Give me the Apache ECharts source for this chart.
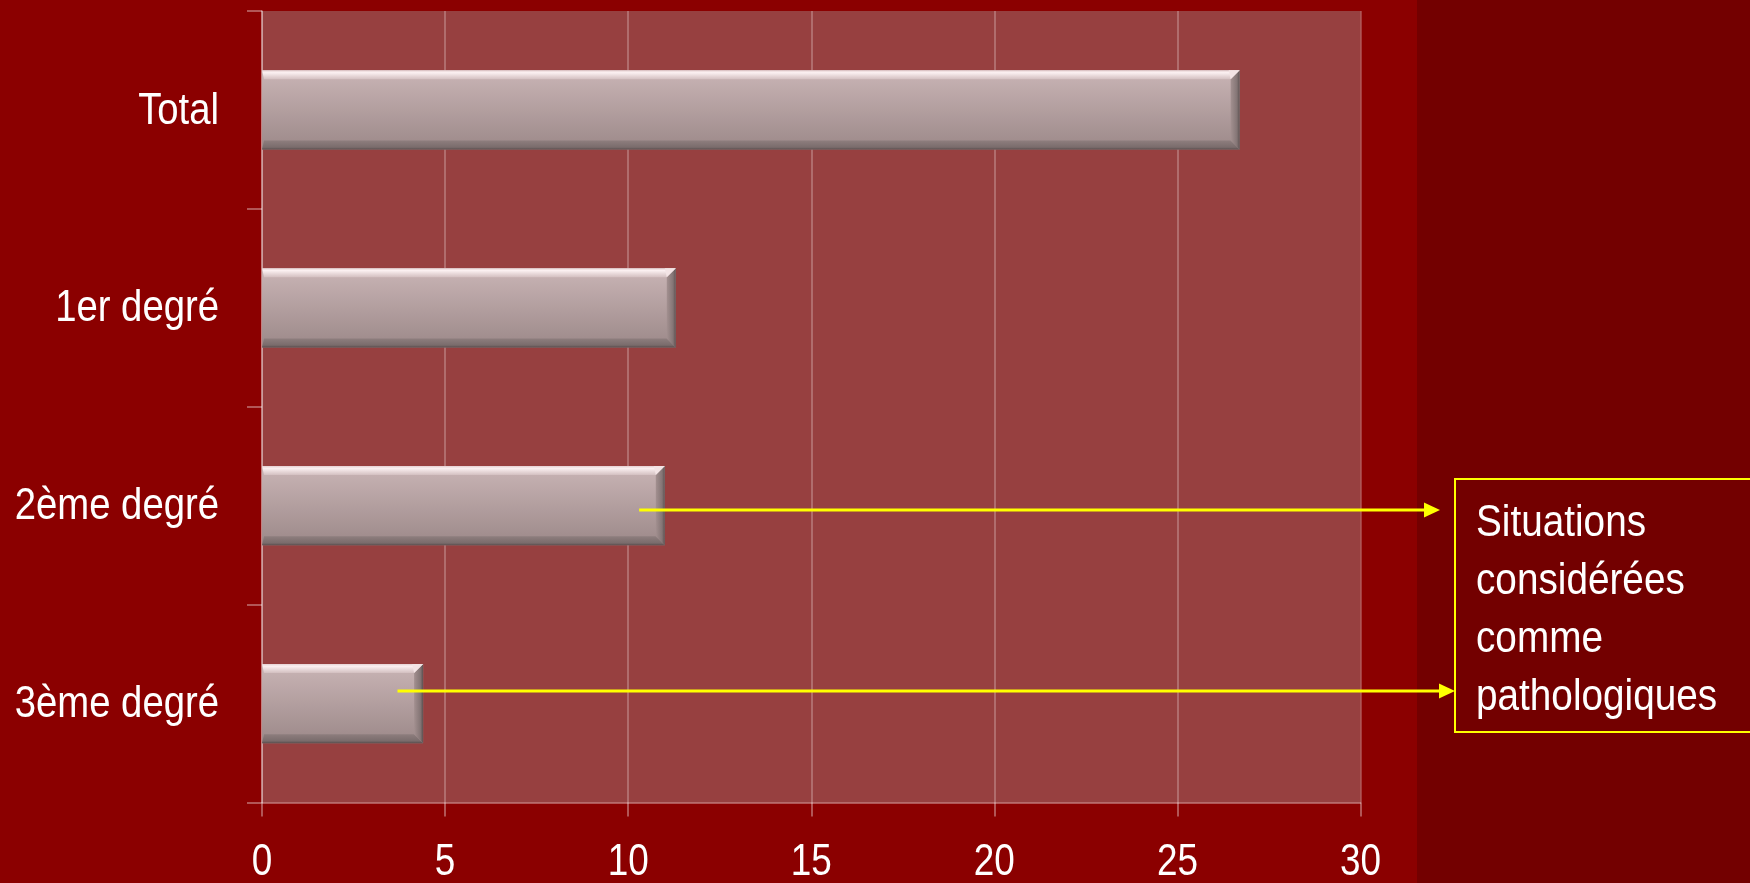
<!DOCTYPE html>
<html>
<head>
<meta charset="utf-8">
<script src="https://cdn.jsdelivr.net/npm/echarts@6/dist/echarts.min.js"></script>
<style>
html,body{margin:0;padding:0;background:#8B0000;}
#c{width:1750px;height:883px;}
</style>
</head>
<body>
<div id="c"></div>
<script>
// Data
var categories = ['Total', '1er degré', '2ème degré', '3ème degré'];
var values = [26.7, 11.3, 11.0, 4.4];
var xTicks = [0, 5, 10, 15, 20, 25, 30];
var noteLines = ['Situations', 'considérées', 'comme', 'pathologiques'];
// arrows: [category, value where the arrow starts]
var arrowFrom = [['2ème degré', 10.3], ['3ème degré', 3.7]];

var FONT = "'Liberation Sans', Arial, sans-serif";
var chart = echarts.init(document.getElementById('c'), null, {renderer: 'canvas'});

function vgrad(stops) {
  return new echarts.graphic.LinearGradient(0, 0, 0, 1, stops.map(function (s) { return {offset: s[0], color: s[1]}; }));
}
function hgrad(stops) {
  return new echarts.graphic.LinearGradient(0, 0, 1, 0, stops.map(function (s) { return {offset: s[0], color: s[1]}; }));
}

var barData = values.map(function (v, i) { return [v, i]; });

function renderBevelBar(params, api) {
  var cat = api.value(1);
  var start = api.coord([0, cat]);
  var end = api.coord([api.value(0), cat]);
  var h = api.size([0, 1])[1] * 0.4;
  var x0 = start[0], x1 = end[0], y0 = start[1] - h / 2, y1 = y0 + h;
  var b = 9;
  return {
    type: 'group',
    children: [
      {type: 'rect', shape: {x: x0, y: y0, width: x1 - x0, height: h},
        style: {fill: vgrad([[0, '#c9b4b5'], [1, '#9c8989']]),
          shadowColor: 'rgba(40,0,0,0.6)', shadowBlur: 9, shadowOffsetX: 3, shadowOffsetY: 4}},
      // top bevel
      {type: 'polygon', shape: {points: [[x0, y0], [x1, y0], [x1 - b, y0 + b], [x0 + 2, y0 + b]]},
        style: {fill: vgrad([[0, '#e6d1d3'], [0.25, '#fbf0f1'], [1, '#d3bfc0']])}},
      // bottom bevel
      {type: 'polygon', shape: {points: [[x0, y1], [x1, y1], [x1 - b, y1 - b], [x0 + 2, y1 - b]]},
        style: {fill: vgrad([[0, '#8e7e7e'], [0.75, '#7a6c6c'], [1, '#5a4e4e']])}},
      // right bevel
      {type: 'polygon', shape: {points: [[x1 - b, y0 + b], [x1, y0], [x1, y1], [x1 - b, y1 - b]]},
        style: {fill: hgrad([[0, '#a39090'], [0.7, '#847575'], [1, '#5c5050']])}},
      // top-right corner highlight
      {type: 'polygon', shape: {points: [[x1 - b, y0 + b], [x1, y0], [x1 - b - 2, y0]]},
        style: {fill: '#f3e4e5'}}
    ]
  };
}

var option = {
  backgroundColor: '#8B0000',
  animation: false,
  grid: {
    left: 262, right: 389.5, top: 11, bottom: 80.5,
    show: true, backgroundColor: '#974040', borderWidth: 0,
    containLabel: false, outerBoundsMode: 'none'
  },
  xAxis: {
    type: 'value', min: 0, max: 30, interval: 5,
    axisLine: {show: true, lineStyle: {color: 'rgba(255,255,255,0.45)', width: 1.5}},
    axisTick: {show: true, length: 14, lineStyle: {color: 'rgba(255,255,255,0.45)', width: 1.5}},
    splitLine: {show: true, lineStyle: {color: 'rgba(255,255,255,0.32)', width: 1.5}},
    axisLabel: {show: false}
  },
  yAxis: {
    type: 'category', data: categories, inverse: true,
    axisLine: {show: true, lineStyle: {color: 'rgba(255,255,255,0.45)', width: 1.5}},
    axisTick: {show: true, length: 15, lineStyle: {color: 'rgba(255,255,255,0.45)', width: 1.5}},
    splitLine: {show: false},
    axisLabel: {show: false}
  },
  series: [{
    type: 'custom',
    renderItem: renderBevelBar,
    encode: {x: 0, y: 1},
    data: barData
  }]
};
chart.setOption(option);

var graphics = [
  {type: 'rect', z: -10, silent: true, shape: {x: 1417, y: 0, width: 333, height: 883}, style: {fill: '#730000'}}
];

// Condensed axis labels (the source typeface is narrow)
categories.forEach(function (c) {
  var y = chart.convertToPixel({yAxisIndex: 0}, c);
  graphics.push({
    type: 'text', z: 20, x: 219, y: y + 1.5, scaleX: 0.87,
    style: {text: c, fill: '#ffffff', font: '44px ' + FONT, align: 'right', verticalAlign: 'middle'}
  });
});
xTicks.forEach(function (t) {
  var x = chart.convertToPixel({xAxisIndex: 0}, t);
  graphics.push({
    type: 'text', z: 20, x: x, y: 863, scaleX: 0.82,
    style: {text: String(t), fill: '#ffffff', font: '45px ' + FONT, align: 'center', verticalAlign: 'middle'}
  });
});

// Note box
var boxX = 1455, boxY = 479, boxH = 253;
graphics.push({type: 'rect', z: 10, shape: {x: boxX, y: boxY, width: 320, height: boxH}, style: {fill: 'none', stroke: '#ffff00', lineWidth: 2}});
noteLines.forEach(function (t, i) {
  graphics.push({
    type: 'text', z: 11, x: 1476, y: 524 + i * 58, scaleX: 0.88,
    style: {text: t, fill: '#ffffff', font: '44px ' + FONT, align: 'left', verticalAlign: 'middle'}
  });
});

// Arrows
var arrowY = [510, 691];
var arrowTip = [1440, 1455];
arrowFrom.forEach(function (a, i) {
  var p = chart.convertToPixel({xAxisIndex: 0}, a[1]);
  var y = arrowY[i], tip = arrowTip[i];
  graphics.push({type: 'line', z: 12, shape: {x1: p, y1: y, x2: tip - 14, y2: y}, style: {stroke: '#ffff00', lineWidth: 3}});
  graphics.push({type: 'polygon', z: 12, shape: {points: [[tip - 16, y - 7.5], [tip, y], [tip - 16, y + 7.5]]}, style: {fill: '#ffff00'}});
});
chart.setOption({graphic: graphics});
</script>
</body>
</html>
